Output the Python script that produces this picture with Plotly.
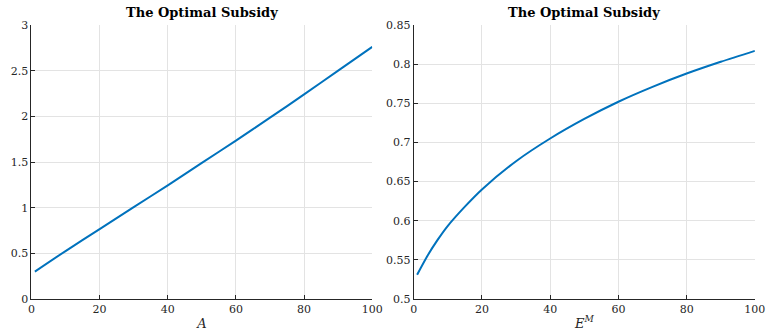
import plotly.graph_objects as go
from plotly.subplots import make_subplots

# Left panel: optimal subsidy vs A
a_vals = [1, 10, 20, 30, 40, 50, 60, 70, 80, 90, 100]
subsidy_a = [0.30, 0.525, 0.765, 1.005, 1.245, 1.49, 1.735, 1.985, 2.24, 2.50, 2.76]

# Right panel: optimal subsidy vs E^M
em_vals = [1, 4, 7, 10, 15, 20, 30, 40, 50, 60, 70, 80, 90, 100]
subsidy_em = [0.531, 0.555, 0.5755, 0.5935, 0.618, 0.640, 0.676, 0.705, 0.730, 0.752, 0.771, 0.788, 0.803, 0.817]

x_ticks = [0, 20, 40, 60, 80, 100]
y_ticks_left = [0, 0.5, 1, 1.5, 2, 2.5, 3]
y_ticks_right = [0.5, 0.55, 0.6, 0.65, 0.7, 0.75, 0.8, 0.85]
title_text = "<b>The Optimal Subsidy</b>"

LINE = "#0072BD"
AX = "#262626"
GRID = "#e3e3e3"
FONT = "'DejaVu Serif', 'Liberation Serif', serif"

fig = make_subplots(rows=1, cols=2)
fig.add_trace(go.Scatter(x=a_vals, y=subsidy_a, mode="lines",
                         line=dict(color=LINE, width=2, shape="spline", smoothing=0.8)), row=1, col=1)
fig.add_trace(go.Scatter(x=em_vals, y=subsidy_em, mode="lines",
                         line=dict(color=LINE, width=2, shape="spline", smoothing=0.8)), row=1, col=2)

axis_common = dict(showline=True, linecolor=AX, linewidth=1, ticks="inside", ticklen=4,
                   tickcolor=AX, showgrid=True, gridcolor=GRID, gridwidth=1, zeroline=False,
                   tickfont=dict(family=FONT, size=11, color=AX), mirror=False)

fig.update_xaxes(**axis_common, range=[0, 100], tickvals=x_ticks,
                 ticktext=[str(v) for v in x_ticks])
fig.update_yaxes(**axis_common)
fig.update_xaxes(domain=[0.0374, 0.4852], row=1, col=1,
                 title=dict(text="<i>A</i>", font=dict(family=FONT, size=13, color=AX), standoff=3))
fig.update_xaxes(domain=[0.5397, 0.988], row=1, col=2,
                 title=dict(text="<i>E</i><sup><i>M</i></sup>", font=dict(family=FONT, size=13, color=AX), standoff=3))
fig.update_yaxes(range=[0, 3], tickvals=y_ticks_left,
                 ticktext=["0", "0.5", "1", "1.5", "2", "2.5", "3"], row=1, col=1)
fig.update_yaxes(range=[0.5, 0.85], tickvals=y_ticks_right,
                 ticktext=["0.5", "0.55", "0.6", "0.65", "0.7", "0.75", "0.8", "0.85"], row=1, col=2)

for cx in [(0.0374 + 0.4852) / 2, (0.5397 + 0.988) / 2]:
    fig.add_annotation(text=title_text, x=cx, y=1, xref="paper", yref="paper",
                       xanchor="center", yanchor="bottom", yshift=3, showarrow=False,
                       font=dict(family=FONT, size=13, color="#000000"))

fig.update_layout(width=775, height=334, margin=dict(l=0, r=0, t=25, b=35),
                  paper_bgcolor="white", plot_bgcolor="white", showlegend=False,
                  font=dict(family=FONT))

fig.write_html("out.html")
